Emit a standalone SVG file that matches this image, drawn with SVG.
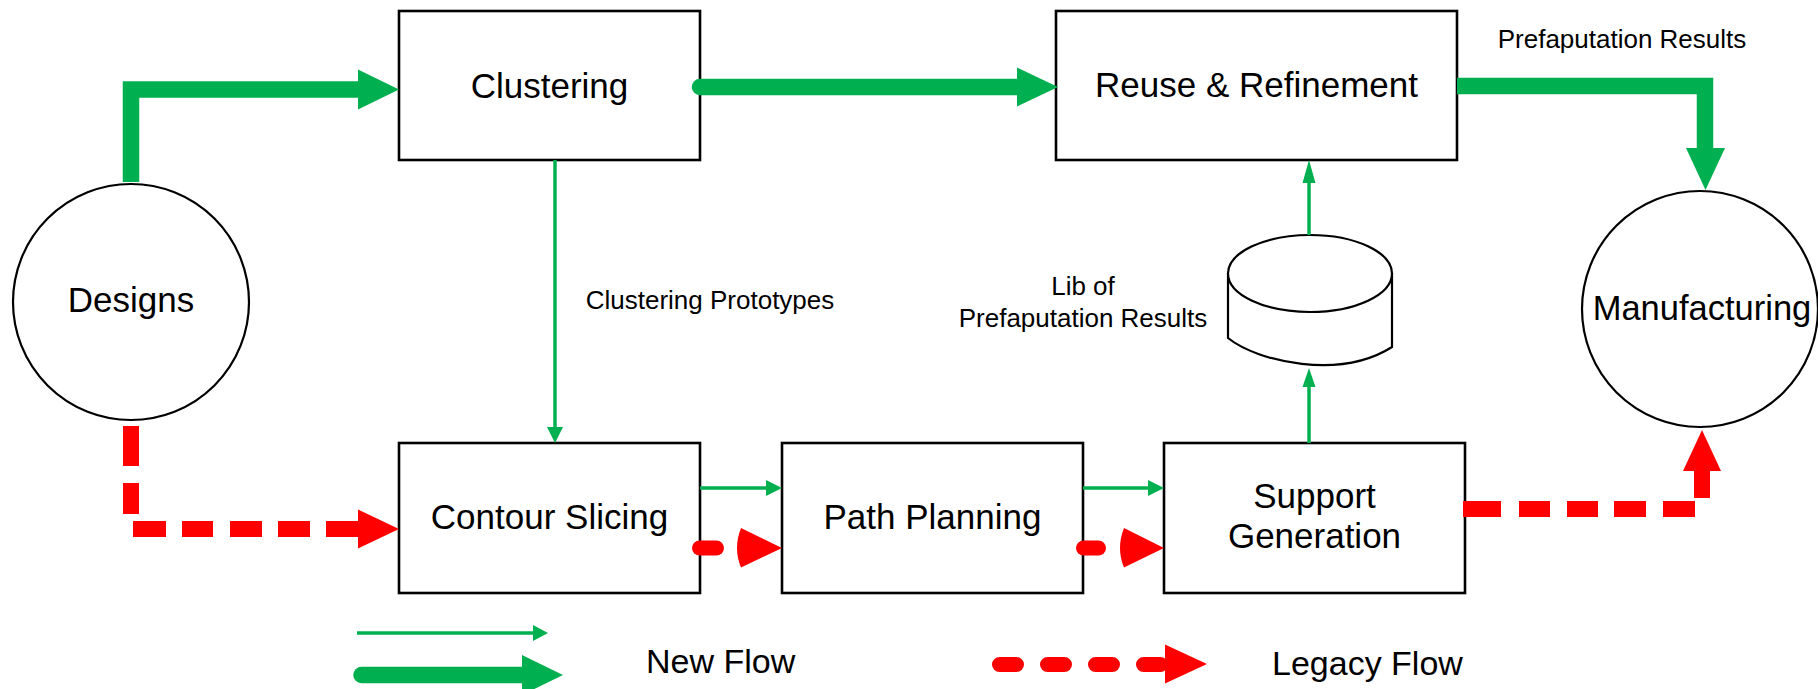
<svg xmlns="http://www.w3.org/2000/svg" width="1818" height="689" viewBox="0 0 1818 689">
<style>
.box{fill:#fff;stroke:#000;stroke-width:2.6}
.circ{fill:#fff;stroke:#000;stroke-width:2.2}
.lbl{font-family:"Liberation Sans",Arial,sans-serif;font-size:35px;fill:#000;text-anchor:middle}
.sm{font-family:"Liberation Sans",Arial,sans-serif;font-size:26px;fill:#000;text-anchor:middle}
.thick{fill:none;stroke:#00B050;stroke-width:16.5;stroke-linejoin:miter}
.thin{fill:none;stroke:#00B050;stroke-width:3.5}
.gh{fill:#00B050}
.red{fill:none;stroke:#FF0000;stroke-width:16;stroke-linejoin:miter}
.rdot{fill:none;stroke:#FF0000;stroke-width:15;stroke-linecap:round}
.rh{fill:#FF0000}
</style>
<rect width="1818" height="689" fill="#fff"/>

<g id="designs">
<circle class="circ" cx="131" cy="302" r="118"/>
<text class="lbl" x="131" y="312">Designs</text>
</g>
<g id="clustering">
<rect class="box" x="399" y="11" width="301" height="149"/>
<text class="lbl" x="549.5" y="98">Clustering</text>
</g>
<g id="reuse">
<rect class="box" x="1056" y="11" width="401" height="149"/>
<text class="lbl" x="1256.5" y="97">Reuse &amp; Refinement</text>
</g>
<g id="manufacturing">
<circle class="circ" cx="1700" cy="309" r="118"/>
<text class="lbl" x="1702" y="320" style="font-size:34.5px">Manufacturing</text>
</g>
<g id="contour">
<rect class="box" x="399" y="443" width="301" height="150"/>
<text class="lbl" x="549.5" y="529">Contour Slicing</text>
</g>
<g id="path-planning">
<rect class="box" x="782" y="443" width="301" height="150"/>
<text class="lbl" x="932.5" y="529">Path Planning</text>
</g>
<g id="support">
<rect class="box" x="1164" y="443" width="301" height="150"/>
<text class="lbl" x="1314.5" y="508">Support</text>
<text class="lbl" x="1314.5" y="548">Generation</text>
</g>
<g id="library">
<path d="M1228,273 V338 C1258,362 1340,380 1392,347 V273" fill="#fff" stroke="#000" stroke-width="2.2"/>
<ellipse cx="1310" cy="273.5" rx="82" ry="38.5" fill="#fff" stroke="#000" stroke-width="2.2"/>
<text class="sm" x="1083" y="295">Lib of</text>
<text class="sm" x="1083" y="327">Prefaputation Results</text>
</g>

<g id="connectors">
<!-- Designs -> Clustering (thick green) -->
<path class="thick" d="M131,182 V89.5 H360"/>
<polygon class="gh" points="358,69.5 399,89.5 358,109.5"/>
<!-- Clustering -> Reuse -->
<path class="thick" d="M700,87 H1020" stroke-linecap="round"/>
<polygon class="gh" points="1017,67.5 1058,87 1017,106.5"/>
<!-- Reuse -> Manufacturing -->
<path class="thick" d="M1457,86 H1705 V150"/>
<polygon class="gh" points="1686,148 1725,148 1705.5,190"/>
<text class="sm" x="1622" y="48">Prefaputation Results</text>
<!-- Clustering -> Contour (thin) -->
<line class="thin" x1="555" y1="160" x2="555" y2="428"/>
<polygon class="gh" points="547,427 563,427 555,443"/>
<text class="sm" x="710" y="309">Clustering Prototypes</text>
<!-- Contour -> Path Planning thin -->
<line class="thin" x1="700" y1="488" x2="767" y2="488"/>
<polygon class="gh" points="766,480 782,488 766,496"/>
<!-- Path Planning -> Support thin -->
<line class="thin" x1="1083" y1="488" x2="1149" y2="488"/>
<polygon class="gh" points="1148,480 1164,488 1148,496"/>
<!-- Support -> Library -->
<line class="thin" x1="1309" y1="443" x2="1309" y2="386"/>
<polygon class="gh" points="1302.5,387 1315.5,387 1309,368"/>
<!-- Library -> Reuse -->
<line class="thin" x1="1309" y1="235" x2="1309" y2="182"/>
<polygon class="gh" points="1302.5,183 1315.5,183 1309,160"/>

<!-- Designs -> Contour (legacy red dashed) -->
<path class="red" d="M131,426 V529 H358" stroke-dasharray="40 17 31 17 33 16 31 17 32 16 32 16 32 100"/>
<polygon class="rh" points="358,509.5 399,529 358,548.5"/>
<!-- Contour -> Path Planning red -->
<line class="rdot" x1="699.5" y1="548" x2="716.5" y2="548"/>
<path class="rh" d="M741,528 Q733,548 741,567.5 L782,548 Z"/>
<!-- Path Planning -> Support red -->
<line class="rdot" x1="1083.5" y1="548" x2="1098.5" y2="548"/>
<path class="rh" d="M1124,528 Q1116,548 1124,567.5 L1164,548 Z"/>
<!-- Support -> Manufacturing red -->
<path class="red" d="M1463,509 H1702 V470" stroke-dasharray="38 18 31 17 31 16 32 17 32 18 28 100"/>
<polygon class="rh" points="1683,471 1721,471 1702,430"/>
</g>

<g id="legend">
<line class="thin" x1="357" y1="633" x2="534" y2="633"/>
<polygon class="gh" points="533,625 548,633 533,641"/>
<path class="thick" d="M361.5,675 H525" stroke-width="17" stroke-linecap="round"/>
<polygon class="gh" points="522,655 563,675 522,695"/>
<text x="646" y="673" style="font-family:'Liberation Sans',Arial,sans-serif;font-size:34px;fill:#000">New Flow</text>
<path class="rdot" d="M999.5,664.5 H1168" stroke-dasharray="17 31"/>
<polygon class="rh" points="1165,644.5 1207,664 1165,683.5"/>
<text x="1272" y="675" style="font-family:'Liberation Sans',Arial,sans-serif;font-size:34px;fill:#000">Legacy Flow</text>
</g>
</svg>
